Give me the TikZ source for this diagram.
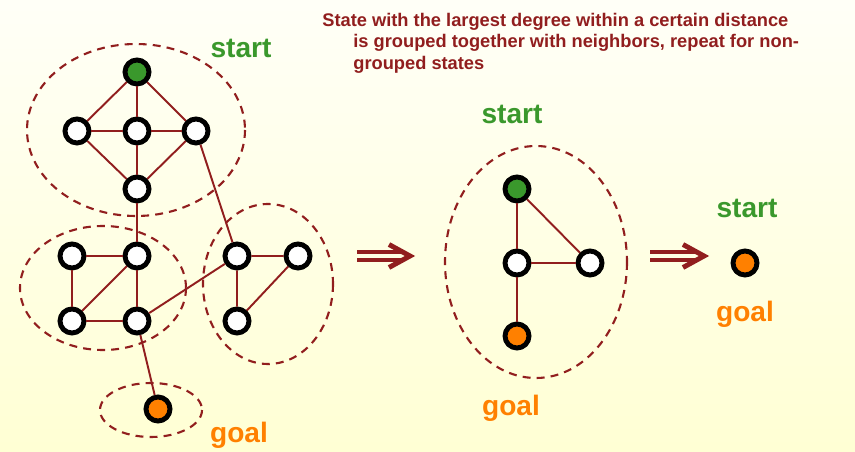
\documentclass[tikz,border=0pt]{standalone}
\usepackage{fontspec}
\setmainfont{Liberation Sans}
\usetikzlibrary{arrows.meta}

\definecolor{darkred}{RGB}{145,30,30}
\definecolor{startgreen}{RGB}{58,152,44}
\definecolor{goalorange}{RGB}{255,128,0}

\begin{document}
\begin{tikzpicture}[
    x=0.02cm, y=-0.02cm,
    state/.style={circle, draw=black, line width=2.8pt, fill=white, minimum size=0.48cm, inner sep=0pt},
    start_state/.style={state, fill=startgreen},
    goal_state/.style={state, fill=goalorange},
    edge/.style={draw=darkred, line width=1.1pt},
    group/.style={draw=darkred, line width=1.2pt, dash pattern=on 4.5pt off 3.5pt},
    arrow_bar/.style={draw=darkred, line width=2.3pt},
    arrow_head/.style={draw=darkred, line width=2.8pt, line join=miter},
    start_text/.style={font=\fontsize{16}{18}\selectfont\bfseries, text=startgreen, anchor=base, inner sep=0pt},
    goal_text/.style={font=\fontsize{16}{18}\selectfont\bfseries, text=goalorange, anchor=base, inner sep=0pt}
]

    % === Background ===
    \shade[top color=white!97!yellow, bottom color=yellow!17!white] (0,0) rectangle (855,452);
    \useasboundingbox (0,0) rectangle (855,452);

    % === Caption ===
    \node[anchor=north west, inner sep=0pt, align=left, text=darkred,
          font=\fontsize{10.4}{12.1}\selectfont\bfseries] (caption) at (322,13)
        {State with the largest degree within a certain distance\\
         \hspace*{0.62cm}is grouped together with neighbors, repeat for non-\\
         \hspace*{0.62cm}grouped states};

    % === 1. Original graph ===
    \draw[group] (136,130) ellipse (109 and 86);
    \draw[group] (103,288) ellipse (83 and 62);
    \draw[group] (268,284) ellipse (65 and 80);
    \draw[group] (151,410) ellipse (51 and 27);

    \node[start_state] (s) at (137,72) {};
    \node[state] (t1) at (77,131) {};
    \node[state] (t2) at (137,131) {};
    \node[state] (t3) at (196,131) {};
    \node[state] (t4) at (137,189) {};

    \node[state] (l1) at (72,256) {};
    \node[state] (l2) at (137,256) {};
    \node[state] (l3) at (72,321) {};
    \node[state] (l4) at (137,321) {};

    \node[state] (r1) at (237,256) {};
    \node[state] (r2) at (298,256) {};
    \node[state] (r3) at (237,321) {};

    \node[goal_state] (g) at (158,409) {};

    % edges
    \draw[edge] (s) -- (t1);
    \draw[edge] (s) -- (t2);
    \draw[edge] (s) -- (t3);
    \draw[edge] (t1) -- (t2) -- (t3);
    \draw[edge] (t1) -- (t4);
    \draw[edge] (t2) -- (t4);
    \draw[edge] (t3) -- (t4);
    \draw[edge] (t4) -- (l2);
    \draw[edge] (t3) -- (r1);

    \draw[edge] (l1) -- (l2) -- (l4) -- (l3) -- (l1);
    \draw[edge] (l3) -- (l2);
    \draw[edge] (l4) -- (r1);
    \draw[edge] (l4) -- (g);

    \draw[edge] (r1) -- (r2) -- (r3) -- (r1);

    \node[start_text] (lbl_s1) at (241,58) {start};
    \node[goal_text] (lbl_g1) at (239,442) {goal};

    % === 2. Grouped graph ===
    \coordinate (a1) at (357,256);
    \coordinate (a2) at (410,256);
    \draw[arrow_bar] ([yshift=0.08cm]a1) -- ([xshift=-0.12cm, yshift=0.08cm]a2);
    \draw[arrow_bar] ([yshift=-0.08cm]a1) -- ([xshift=-0.12cm, yshift=-0.08cm]a2);
    \draw[arrow_head] ([xshift=-0.42cm, yshift=0.23cm]a2) -- (a2) -- ([xshift=-0.42cm, yshift=-0.23cm]a2);

    \draw[group] (536,262) ellipse (91 and 116);

    \node[start_state] (m1) at (517,189) {};
    \node[state] (m2) at (517,263) {};
    \node[state] (m3) at (590,263) {};
    \node[goal_state] (m4) at (517,336) {};

    \draw[edge] (m1) -- (m2);
    \draw[edge] (m1) -- (m3);
    \draw[edge] (m2) -- (m3);
    \draw[edge] (m2) -- (m4);

    \node[start_text] (lbl_s2) at (512,124) {start};
    \node[goal_text] (lbl_g2) at (511,416) {goal};

    % === 3. Single state ===
    \coordinate (b1) at (650,256);
    \coordinate (b2) at (704,256);
    \draw[arrow_bar] ([yshift=0.08cm]b1) -- ([xshift=-0.12cm, yshift=0.08cm]b2);
    \draw[arrow_bar] ([yshift=-0.08cm]b1) -- ([xshift=-0.12cm, yshift=-0.08cm]b2);
    \draw[arrow_head] ([xshift=-0.42cm, yshift=0.23cm]b2) -- (b2) -- ([xshift=-0.42cm, yshift=-0.23cm]b2);

    \node[goal_state] (f) at (745,263) {};

    \node[start_text] (lbl_s3) at (747,218) {start};
    \node[goal_text] (lbl_g3) at (745,322) {goal};

\end{tikzpicture}
\end{document}
